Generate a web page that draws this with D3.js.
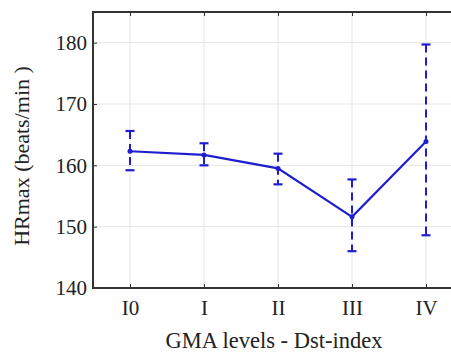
<!DOCTYPE html>
<html><head><meta charset="utf-8">
<script src="https://cdn.jsdelivr.net/npm/d3@7"></script>
<style>
html,body{margin:0;padding:0;background:#fff;}
svg{display:block;}
text{font-family:"Liberation Serif","Times New Roman",serif;fill:#222;}
</style></head>
<body>
<svg id="chart" width="451" height="352"></svg>
<script>
const categories = ["I0", "I", "II", "III", "IV"];
const means = [162.3, 161.7, 159.5, 151.6, 163.9];
const upper = [165.6, 163.6, 161.9, 157.7, 179.7];
const lower = [159.2, 160.0, 156.9, 146.0, 148.6];
const yTicks = [140, 150, 160, 170, 180];
const xLabel = "GMA levels - Dst-index";
const yLabel = "HRmax (beats/min )";

(function () {
const svg = d3.select("#chart");
const pL = 93, pT = 12, pB = 288, pR = 463;
const blue = "#1e1ed0";
const serif = "'Liberation Serif', 'Times New Roman', serif";

const x = d3.scaleLinear().domain([-0.5, categories.length - 0.5]).range([pL, pR]);
const y = d3.scaleLinear().domain([140, 185]).range([pB, pT]);

// grid
const g = svg.append("g");
g.selectAll(".hg").data(yTicks).enter().append("line")
  .attr("x1", pL).attr("x2", pR)
  .attr("y1", d => y(d)).attr("y2", d => y(d))
  .attr("stroke", "#e4e4e4").attr("stroke-width", 1);
g.selectAll(".vg").data(categories).enter().append("line")
  .attr("x1", (d, i) => x(i)).attr("x2", (d, i) => x(i))
  .attr("y1", pT).attr("y2", pB)
  .attr("stroke", "#e4e4e4").attr("stroke-width", 1);

// axes
const yAxis = d3.axisLeft(y).tickValues(yTicks).tickSize(-4).tickPadding(6).tickFormat(d3.format("d"));
const ya = svg.append("g").attr("transform", `translate(${pL},0)`).call(yAxis);
ya.attr("font-family", serif);
ya.select(".domain").remove();
ya.selectAll("text").attr("font-size", 21).attr("fill", "#222");
ya.selectAll("line").attr("stroke", "#333");

const xAxis = d3.axisBottom(x).tickValues(d3.range(categories.length)).tickFormat(i => categories[i]).tickSize(-4).tickPadding(12);
const xa = svg.append("g").attr("transform", `translate(0,${pB})`).call(xAxis);
xa.attr("font-family", serif);
xa.select(".domain").remove();
xa.selectAll("text").attr("font-size", 21).attr("fill", "#222");
xa.selectAll("line").attr("stroke", "#333");

const xt = d3.axisTop(x).tickValues(d3.range(categories.length)).tickFormat("").tickSize(-4);
const xta = svg.append("g").attr("transform", `translate(0,${pT})`).call(xt);
xta.select(".domain").remove();
xta.selectAll("line").attr("stroke", "#333");

// frame
svg.append("path")
  .attr("d", `M${pR},${pT}H${pL}V${pB}H${pR}`)
  .attr("fill", "none").attr("stroke", "#333").attr("stroke-width", 2);

// error bars
const eb = svg.append("g");
categories.forEach((c, i) => {
  eb.append("line").attr("x1", x(i)).attr("x2", x(i))
    .attr("y1", y(upper[i])).attr("y2", y(lower[i]))
    .attr("stroke", blue).attr("stroke-width", 2).attr("stroke-dasharray", "8,5");
  [upper[i], lower[i]].forEach(v => {
    eb.append("line").attr("x1", x(i) - 4.5).attr("x2", x(i) + 4.5)
      .attr("y1", y(v)).attr("y2", y(v))
      .attr("stroke", blue).attr("stroke-width", 2.2);
  });
});

// mean line
const line = d3.line().x((d, i) => x(i)).y(d => y(d));
svg.append("path").datum(means).attr("d", line)
  .attr("fill", "none").attr("stroke", blue).attr("stroke-width", 2.2);
svg.selectAll(".pt").data(means).enter().append("circle")
  .attr("cx", (d, i) => x(i)).attr("cy", d => y(d)).attr("r", 2.5).attr("fill", blue);

// labels
svg.append("text").attr("x", 274).attr("y", 348).attr("text-anchor", "middle")
  .attr("font-family", serif).attr("font-size", 22.5).text(xLabel);
svg.append("text").attr("transform", "translate(29,156) rotate(-90)").attr("text-anchor", "middle")
  .attr("font-family", serif).attr("font-size", 22).text(yLabel);
})();
</script>
</body></html>
